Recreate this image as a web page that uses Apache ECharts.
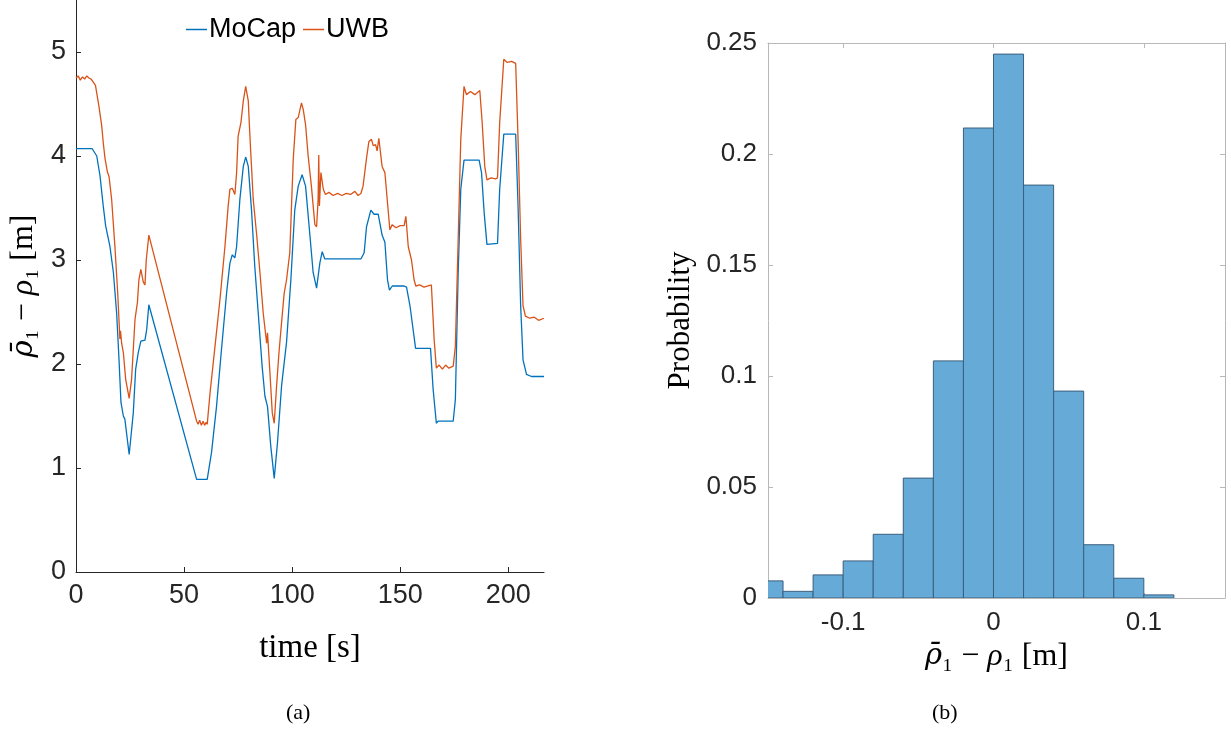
<!DOCTYPE html>
<html>
<head>
<meta charset="utf-8">
<script src="https://cdn.jsdelivr.net/npm/echarts@6/dist/echarts.min.js"></script>
<style>
html,body{margin:0;padding:0;background:#fff;}
#c{width:1231px;height:731px;}
</style>
</head>
<body>
<div id="c"></div>
<script>
// ---- Panel (a): distance vs time ----
const mocapData = [[0,4.07],[7.5,4.07],[9.6,4.0],[11.1,3.81],[12.6,3.52],[13.7,3.33],[15.7,3.13],[17.3,2.88],[18.8,2.49],[19.9,2.04],[20.8,1.63],[21.9,1.50],[22.6,1.47],[24.6,1.13],[26.5,1.53],[27.6,1.95],[28.8,2.11],[30.0,2.22],[31.9,2.23],[32.7,2.33],[33.7,2.57],[55.8,0.89],[60.7,0.89],[62.7,1.15],[65.0,1.59],[67.3,2.14],[69.7,2.69],[71.2,2.97],[72.3,3.05],[73.5,3.02],[74.3,3.13],[75.8,3.58],[77.4,3.90],[78.5,3.99],[79.7,3.90],[81.2,3.48],[82.7,2.94],[84.3,2.49],[86.1,1.98],[87.4,1.69],[88.6,1.59],[90.1,1.21],[91.7,0.90],[93.2,1.24],[95.1,1.79],[97.4,2.21],[99.4,2.81],[101.2,3.48],[102.8,3.71],[104.6,3.82],[106.2,3.71],[108.2,3.24],[109.7,2.88],[111.3,2.73],[112.8,2.97],[113.9,3.08],[115.1,3.01],[131.8,3.01],[133.3,3.07],[134.4,3.32],[136.4,3.48],[137.9,3.44],[139.8,3.44],[141.6,3.24],[142.9,3.17],[144.1,2.81],[145.0,2.71],[146.3,2.75],[151.8,2.75],[152.9,2.74],[154.5,2.56],[157.1,2.15],[164.0,2.15],[165.2,1.76],[166.7,1.43],[167.5,1.45],[174.5,1.45],[175.5,1.66],[176.8,2.88],[178.0,3.68],[179.5,3.96],[186.5,3.96],[187.6,3.84],[188.8,3.46],[190.1,3.15],[195.0,3.16],[196.0,3.68],[197.9,4.21],[203.4,4.21],[204.5,3.52],[205.7,2.56],[206.8,2.04],[208.4,1.90],[210.7,1.88],[216.5,1.88]];

const uwbData = [[0,4.75],[1,4.77],[2,4.73],[3,4.76],[4,4.74],[5,4.77],[6,4.75],[7,4.74],[8,4.71],[9,4.68],[9.6,4.67],[10.6,4.48],[11.9,4.29],[12.6,4.13],[13.4,3.98],[14.5,3.85],[15.3,3.80],[16.5,3.58],[18.0,3.13],[19.3,2.68],[20.3,2.24],[20.6,2.32],[21.1,2.20],[21.9,2.11],[23.0,1.85],[24.6,1.67],[25.7,1.85],[27.3,2.43],[28.4,2.59],[29.1,2.81],[30.0,2.91],[31.1,2.79],[31.9,2.76],[32.5,3.0],[33.7,3.24],[55.8,1.45],[56.5,1.42],[57.2,1.46],[58,1.41],[58.8,1.45],[59.5,1.41],[60.2,1.44],[60.7,1.42],[62.0,1.72],[64.3,2.17],[66.6,2.62],[68.9,3.13],[70.4,3.52],[71.2,3.68],[72.3,3.69],[73.5,3.63],[74.3,3.84],[75.0,4.19],[76.3,4.32],[77.4,4.53],[78.5,4.67],[79.7,4.53],[80.2,4.30],[80.8,4.05],[82.0,3.58],[83.5,3.26],[85.1,2.88],[86.6,2.49],[88.2,2.20],[88.6,2.30],[89.7,1.92],[90.8,1.53],[91.7,1.43],[92.8,1.79],[93.9,2.11],[95.1,2.40],[96.3,2.68],[97.4,2.81],[98.9,3.07],[100.5,3.97],[101.7,4.35],[102.8,4.37],[104.3,4.51],[105.1,4.45],[106.2,4.30],[107.4,4.0],[108.9,3.71],[110.5,3.34],[111.3,3.32],[112.0,3.58],[112.3,4.01],[112.6,3.52],[113.3,3.84],[114.4,3.68],[115.4,3.63],[117,3.65],[119,3.62],[121,3.64],[123,3.62],[125,3.64],[127,3.63],[129,3.66],[130.5,3.62],[131.8,3.64],[132.8,3.71],[134.4,3.98],[135.5,4.14],[136.7,4.16],[137.5,4.10],[138.6,4.11],[139.3,4.05],[140.1,4.17],[141.6,3.90],[142.9,3.84],[144.1,3.55],[145.2,3.29],[146.3,3.34],[148,3.31],[150,3.33],[151.8,3.33],[152.6,3.42],[153.7,3.13],[155.2,3.00],[156.4,2.81],[157.2,2.75],[159,2.76],[161,2.74],[164.4,2.76],[165.7,2.23],[166.7,1.96],[168,1.99],[169.5,1.95],[171,1.99],[172.5,1.96],[174.5,1.98],[175.5,2.17],[176.8,3.20],[178.0,4.16],[179.5,4.67],[180.6,4.59],[182.5,4.62],[184.5,4.59],[186.8,4.63],[187.9,4.32],[189.1,3.90],[190.1,3.77],[192,3.79],[194,3.78],[195.0,3.79],[196.0,4.32],[197.9,4.93],[199.5,4.90],[201.5,4.91],[203.4,4.89],[204.5,4.16],[205.7,3.20],[206.8,2.56],[207.9,2.46],[209.9,2.44],[212,2.45],[214,2.42],[216.5,2.44]];

const timeTicks = [0, 50, 100, 150, 200];
const distTicks = [0, 1, 2, 3, 4, 5];

// ---- Panel (b): histogram of error ----
const binStart = [-0.16, -0.14, -0.12, -0.10, -0.08, -0.06, -0.04, -0.02, 0.00, 0.02, 0.04, 0.06, 0.08, 0.10];
const binProb  = [0.0077, 0.0030, 0.0104, 0.0167, 0.0287, 0.0540, 0.1068, 0.2117, 0.2450, 0.1860, 0.0932, 0.0240, 0.0089, 0.0014];
const binWidth = 0.02;
const errTicks = [-0.1, 0, 0.1];
const probTicks = [0, 0.05, 0.1, 0.15, 0.2, 0.25];

const histData = binStart.map((s, i) => [s, s + binWidth, binProb[i]]);

const SANS = '"Liberation Sans", Arial, Helvetica, sans-serif';
const SERIF = '"Liberation Serif", "DejaVu Serif", "Times New Roman", serif';
const DSERIF = '"DejaVu Serif", serif';
const dark = '#262626';
const boxGrey = '#b8b8b8';

const chart = echarts.init(document.getElementById('c'), null, {renderer: 'canvas'});

const rhoName = '{b|ρ\u0304}{n|\u2081 − }{i|ρ}{n|\u2081 [m]}';
const rhoRich = {
  b: {fontFamily: DSERIF, fontStyle: 'italic', fontSize: 29, color: '#000'},
  i: {fontFamily: SERIF, fontStyle: 'italic', fontSize: 32, color: '#000'},
  n: {fontFamily: SERIF, fontSize: 32, color: '#000'}
};

chart.setOption({
  animation: false,
  backgroundColor: '#fff',
  grid: [
    {left: 76, top: 0, width: 468, height: 572},
    {left: 768, top: 43, width: 457, height: 555}
  ],
  legend: {
    left: 186, top: 16, padding: 0,
    itemWidth: 21, itemHeight: 1.5, itemGap: 7,
    icon: 'rect',
    textStyle: {fontFamily: SANS, fontSize: 27, color: '#000', padding: [0, 0, 0, -3]},
    data: ['MoCap', 'UWB']
  },
  xAxis: [
    {
      gridIndex: 0, type: 'value', min: 0, max: 216.5,
      name: 'time [s]', nameLocation: 'middle', nameGap: 60,
      nameTextStyle: {fontFamily: SERIF, fontSize: 33, color: '#000'},
      axisLine: {lineStyle: {color: dark, width: 1}},
      axisTick: {inside: true, length: 5, customValues: timeTicks, lineStyle: {color: dark}},
      axisLabel: {customValues: timeTicks, fontFamily: SANS, fontSize: 27, color: dark, margin: 10},
      splitLine: {show: false}
    },
    {
      gridIndex: 1, type: 'value', min: -0.15, max: 0.154,
      name: rhoName, nameLocation: 'middle', nameGap: 40,
      nameTextStyle: {rich: rhoRich},
      axisLine: {onZero: false, lineStyle: {color: boxGrey, width: 1}},
      axisTick: {inside: true, length: 5, customValues: errTicks, lineStyle: {color: boxGrey}},
      axisLabel: {customValues: errTicks, fontFamily: SANS, fontSize: 26, color: dark, margin: 12},
      splitLine: {show: false}
    },
    {
      gridIndex: 1, type: 'value', min: -0.15, max: 0.154, position: 'top',
      axisLine: {onZero: false, lineStyle: {color: boxGrey, width: 1}},
      axisTick: {inside: true, length: 5, customValues: errTicks, lineStyle: {color: boxGrey}},
      axisLabel: {show: false},
      splitLine: {show: false}
    }
  ],
  yAxis: [
    {
      gridIndex: 0, type: 'value', min: 0, max: 5.5,
      name: rhoName, nameLocation: 'middle', nameGap: 36,
      nameTextStyle: {rich: rhoRich},
      axisLine: {show: true, lineStyle: {color: dark, width: 1}},
      axisTick: {show: true, inside: true, length: 5, customValues: distTicks, lineStyle: {color: dark}},
      axisLabel: {customValues: distTicks, fontFamily: SANS, fontSize: 27, color: dark, margin: 10},
      splitLine: {show: false}
    },
    {
      gridIndex: 1, type: 'value', min: 0, max: 0.25,
      name: 'Probability', nameLocation: 'middle', nameGap: 72,
      nameTextStyle: {fontFamily: SERIF, fontSize: 31, color: '#000'},
      axisLine: {show: true, onZero: false, lineStyle: {color: boxGrey, width: 1}},
      axisTick: {show: true, inside: true, length: 5, customValues: probTicks, lineStyle: {color: boxGrey}},
      axisLabel: {customValues: probTicks, fontFamily: SANS, fontSize: 26, color: dark, margin: 11},
      splitLine: {show: false}
    },
    {
      gridIndex: 1, type: 'value', min: 0, max: 0.25, position: 'right',
      axisLine: {show: true, onZero: false, lineStyle: {color: boxGrey, width: 1}},
      axisTick: {show: true, inside: true, length: 5, customValues: probTicks, lineStyle: {color: boxGrey}},
      axisLabel: {show: false},
      splitLine: {show: false}
    }
  ],
  series: [
    {
      name: 'MoCap', type: 'line', xAxisIndex: 0, yAxisIndex: 0,
      data: mocapData, showSymbol: false, symbol: 'none',
      lineStyle: {color: '#0072BD', width: 1.3}, itemStyle: {color: '#0072BD'}
    },
    {
      name: 'UWB', type: 'line', xAxisIndex: 0, yAxisIndex: 0,
      data: uwbData, showSymbol: false, symbol: 'none',
      lineStyle: {color: '#D95319', width: 1.3}, itemStyle: {color: '#D95319'}
    },
    {
      name: 'hist', type: 'custom', xAxisIndex: 1, yAxisIndex: 1,
      clip: true,
      data: histData,
      renderItem: function (params, api) {
        const p0 = api.coord([api.value(0), api.value(2)]);
        const p1 = api.coord([api.value(1), 0]);
        return {
          type: 'rect',
          shape: {x: p0[0], y: p0[1], width: p1[0] - p0[0], height: p1[1] - p0[1]},
          style: {fill: '#66AAD7', stroke: '#3b5f7d', lineWidth: 1}
        };
      }
    }
  ],
  graphic: [
    {type: 'text', left: 286, top: 702, style: {text: '(a)', fontFamily: SERIF, fontSize: 22, fill: '#000'}},
    {type: 'text', left: 932, top: 702, style: {text: '(b)', fontFamily: SERIF, fontSize: 22, fill: '#000'}}
  ]
});
</script>
</body>
</html>
